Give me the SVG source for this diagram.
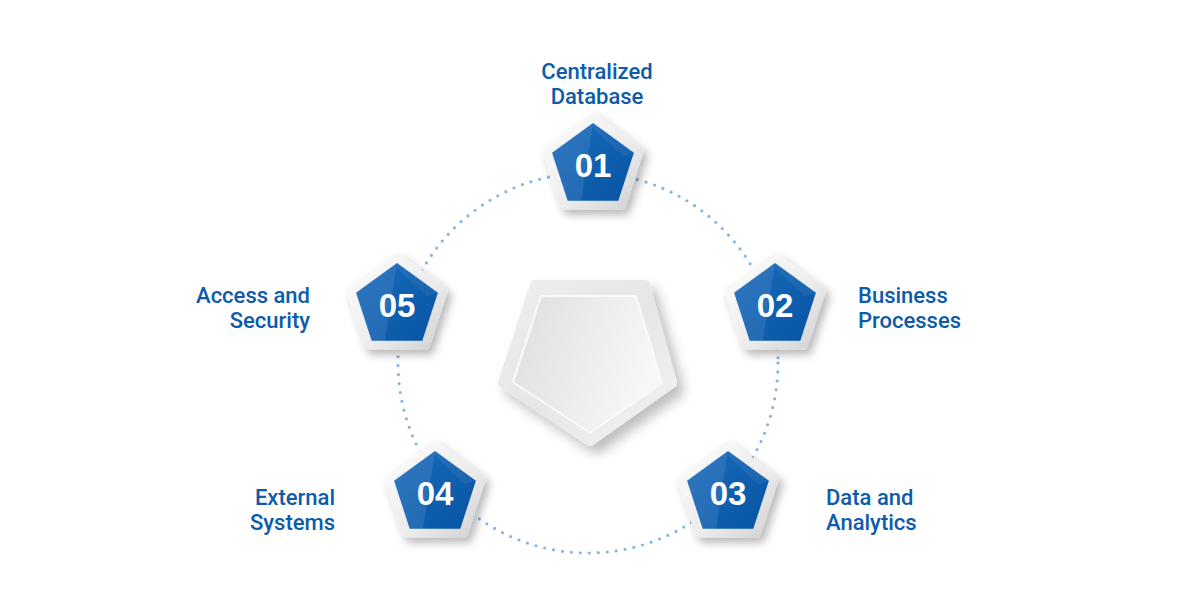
<svg xmlns="http://www.w3.org/2000/svg" width="1200" height="600" viewBox="0 0 1200 600">
<defs>
  <style>
    .lbl{font-family:Roboto,"Open Sans","Liberation Sans",sans-serif;font-weight:500;font-size:22px;fill:#0d5cab}
    .num{font-family:"Liberation Sans",Arial,sans-serif;font-weight:700;font-size:33px;fill:#ffffff;text-anchor:middle}
    .ring{fill:none;stroke:#86b4e4;stroke-width:3.2;stroke-linecap:round;stroke-dasharray:0 9}
  </style>
  <linearGradient id="gBlue" x1="0" y1="0" x2="1" y2="1">
    <stop offset="0" stop-color="#1a6cbd"/>
    <stop offset="1" stop-color="#0754a3"/>
  </linearGradient>
  <linearGradient id="gFrame" x1="0" y1="0" x2="1" y2="1">
    <stop offset="0" stop-color="#fdfdfd"/>
    <stop offset="0.6" stop-color="#ececec"/>
    <stop offset="1" stop-color="#d2d2d2"/>
  </linearGradient>
  <linearGradient id="gCenterOut" x1="0" y1="0" x2="1" y2="1">
    <stop offset="0" stop-color="#eeeeee"/>
    <stop offset="0.5" stop-color="#e6e6e6"/>
    <stop offset="1" stop-color="#f3f3f3"/>
  </linearGradient>
  <linearGradient id="gCenterIn" x1="0" y1="0" x2="1" y2="0.3">
    <stop offset="0" stop-color="#dedede"/>
    <stop offset="1" stop-color="#f7f7f7"/>
  </linearGradient>
  <filter id="shadow" x="-30%" y="-30%" width="170%" height="170%">
    <feDropShadow dx="4" dy="5" stdDeviation="4" flood-color="#000" flood-opacity="0.28"/>
  </filter>
  <filter id="shadowBig" x="-30%" y="-30%" width="170%" height="170%">
    <feDropShadow dx="7" dy="8" stdDeviation="6" flood-color="#000" flood-opacity="0.25"/>
  </filter>
  <g id="badge">
    <polygon points="0,-48 45.6,-14.8 28.2,38.8 -28.2,38.8 -45.6,-14.8" fill="url(#gFrame)" stroke="url(#gFrame)" stroke-width="10" stroke-linejoin="round" filter="url(#shadow)"/>
    <polygon points="0,-43 40.9,-13.3 25.3,34.8 -25.3,34.8 -40.9,-13.3" fill="url(#gBlue)"/>
    <polygon points="0,-43 -40.9,-13.3 -25.3,34.8 -12,34.8" fill="#ffffff" fill-opacity="0.09"/>
    <polygon points="0,-43 40.9,-13.3 30,-10 0,-38" fill="#ffffff" fill-opacity="0.06"/>
  </g>
</defs>

<rect width="1200" height="600" fill="#ffffff"/>

<g id="connectors">
  <circle class="ring" cx="588" cy="363" r="190"/>
</g>

<g id="center">
  <polygon points="535,285 645,285 672,383 590,441 503,383" fill="url(#gCenterOut)" stroke="url(#gCenterOut)" stroke-width="10" stroke-linejoin="round" filter="url(#shadowBig)"/>
  <polygon points="541,296 636,296 662,383 590,433 513,382" fill="url(#gCenterIn)" stroke="#fafafa" stroke-width="2" stroke-linejoin="round"/>
</g>

<g id="node01">
  <use href="#badge" x="593" y="166"/>
  <text class="num" x="593" y="177">01</text>
  <text class="lbl" x="597" y="79" text-anchor="middle">Centralized</text>
  <text class="lbl" x="597" y="104" text-anchor="middle">Database</text>
</g>

<g id="node02">
  <use href="#badge" x="775" y="306"/>
  <text class="num" x="775" y="317">02</text>
  <text class="lbl" x="858" y="303">Business</text>
  <text class="lbl" x="858" y="328">Processes</text>
</g>

<g id="node03">
  <use href="#badge" x="728" y="494"/>
  <text class="num" x="728" y="505">03</text>
  <text class="lbl" x="826" y="505">Data and</text>
  <text class="lbl" x="826" y="530">Analytics</text>
</g>

<g id="node04">
  <use href="#badge" x="435" y="494"/>
  <text class="num" x="435" y="505">04</text>
  <text class="lbl" x="335" y="505" text-anchor="end">External</text>
  <text class="lbl" x="335" y="530" text-anchor="end">Systems</text>
</g>

<g id="node05">
  <use href="#badge" x="397" y="306"/>
  <text class="num" x="397" y="317">05</text>
  <text class="lbl" x="310" y="303" text-anchor="end">Access and</text>
  <text class="lbl" x="310" y="328" text-anchor="end">Security</text>
</g>
</svg>
